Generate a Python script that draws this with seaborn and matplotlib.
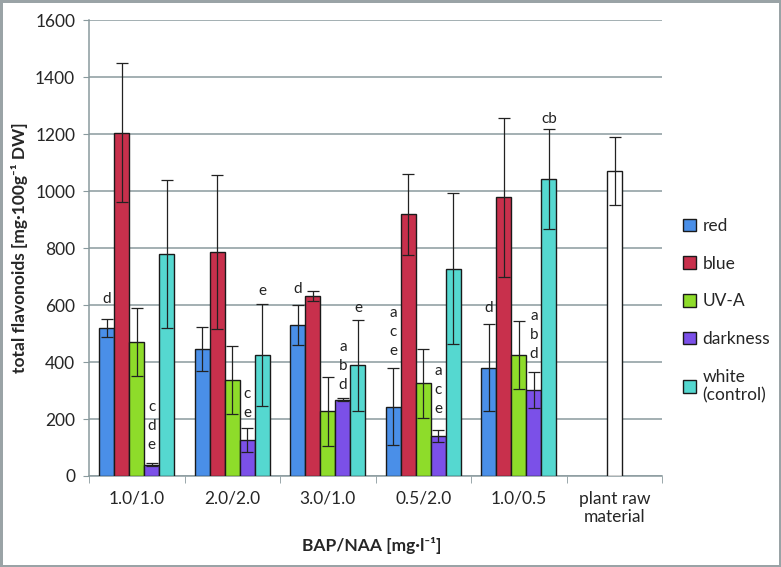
import seaborn as sns
import pandas as pd
import matplotlib.pyplot as plt

# data
groups = ["1.0/1.0", "2.0/2.0", "3.0/1.0", "0.5/2.0", "1.0/0.5"]
raw_label = "plant raw\nmaterial"
lights = ["red", "blue", "UV-A", "darkness", "white\n(control)"]
colors = ["#4A8FE8", "#C8304C", "#8EDC2A", "#7B50E8", "#55D8D0"]

red_mean = [520, 445, 530, 243, 380]
blue_mean = [1205, 787, 632, 918, 978]
uva_mean = [470, 338, 227, 325, 425]
dark_mean = [40, 125, 268, 140, 302]
white_mean = [780, 423, 388, 727, 1043]

red_err = [32, 78, 70, 135, 153]
blue_err = [245, 271, 18, 142, 278]
uva_err = [120, 120, 121, 120, 120]
dark_err = [5, 42, 5, 20, 63]
white_err = [260, 179, 161, 265, 175]

raw_mean = 1071
raw_err = 120

# significance letters: (group, light, text, y)
letters = [
    ("1.0/1.0", "red", "d", 620),
    ("1.0/1.0", "darkness", "c\nd\ne", 175),
    ("2.0/2.0", "darkness", "c\ne", 255),
    ("2.0/2.0", "white\n(control)", "e", 650),
    ("3.0/1.0", "red", "d", 655),
    ("3.0/1.0", "darkness", "a\nb\nd", 386),
    ("3.0/1.0", "white\n(control)", "e", 590),
    ("0.5/2.0", "red", "a\nc\ne", 505),
    ("0.5/2.0", "darkness", "a\nc\ne", 302),
    ("1.0/0.5", "red", "d", 590),
    ("1.0/0.5", "darkness", "a\nb\nd", 495),
    ("1.0/0.5", "white\n(control)", "cb", 1252),
]

means = [red_mean, blue_mean, uva_mean, dark_mean, white_mean]
errs = [red_err, blue_err, uva_err, dark_err, white_err]
rows = []
for light, m, e in zip(lights, means, errs):
    for g, v, s in zip(groups, m, e):
        rows.append({"group": g, "light": light, "value": v, "err": s})
df = pd.DataFrame(rows)
order = groups + [raw_label]

sns.set_style("white")
plt.rcParams["font.family"] = ["Lato", "DejaVu Sans"]

fig = plt.figure(figsize=(7.81, 5.67), dpi=100)
fig.patch.set_edgecolor("#9AA3A6")
fig.patch.set_linewidth(2.5)
ax = fig.add_axes([0.114, 0.1605, 0.734, 0.804])

sns.barplot(data=df, x="group", y="value", hue="light", order=order,
            hue_order=lights, palette=colors, saturation=1, width=0.785, gap=0,
            edgecolor="#1a1a1a", linewidth=1, errorbar=None, ax=ax, zorder=3)
sns.barplot(x=[raw_label], y=[raw_mean], order=order, color="white", saturation=1,
            width=0.157, edgecolor="#1a1a1a", linewidth=1, errorbar=None,
            ax=ax, zorder=3)
bar_conts = list(ax.containers)

# error bars and letters at the bar centres
centers = {}
for i, light in enumerate(lights):
    cont = bar_conts[i]
    sub = df[df.light == light].set_index("group").loc[groups]
    xs = [p.get_x() + p.get_width() / 2 for p in cont.patches[:len(groups)]]
    ax.errorbar(xs, sub["value"], yerr=sub["err"], fmt="none", ecolor="#222222",
                elinewidth=0.9, capsize=4, capthick=0.9, zorder=4)
    for g, x in zip(groups, xs):
        centers[(g, light)] = x
raw_patch = bar_conts[5].patches[0]
ax.errorbar([raw_patch.get_x() + raw_patch.get_width() / 2], [raw_mean], yerr=[raw_err],
            fmt="none", ecolor="#222222", elinewidth=0.9, capsize=4, capthick=0.9, zorder=4)

for g, light, txt, y in letters:
    ax.text(centers[(g, light)], y, txt, ha="center", va="center", fontsize=11,
            linespacing=1.45, color="#222222", zorder=5)

ax.set_ylim(0, 1600)
ax.set_xlim(-0.5, 5.5)
ax.set_yticks(range(0, 1601, 200))
ax.yaxis.grid(True, color="#8A9A9E", linewidth=1.1)
ax.set_axisbelow(True)
ax.tick_params(axis="y", labelsize=12.5, left=True, length=4, color="#8A9A9E", pad=6)
ax.tick_params(axis="x", labelsize=12.5, bottom=False, pad=7)
ax.set_xticks(range(6))
ax.set_xticklabels(order)
ax.set_xticks([i - 0.5 for i in range(7)], minor=True)
ax.tick_params(axis="x", which="minor", bottom=True, length=5, color="#8A9A9E")
for side in ["top", "right"]:
    ax.spines[side].set_visible(False)
for side in ["left", "bottom"]:
    ax.spines[side].set_color("#8A9A9E")
    ax.spines[side].set_linewidth(1.1)

ax.set_ylabel("total flavonoids [mg·100g⁻¹ DW]", fontsize=12.5, fontweight="bold", labelpad=5)
ax.set_xlabel("")
fig.text(0.476, 1 - 545 / 567, "BAP/NAA [mg·l⁻¹]", fontsize=12.5, fontweight="bold",
         ha="center", va="center")

handles, labels = ax.get_legend_handles_labels()
ax.legend_.remove()
fig.legend(handles, labels, loc="center left", bbox_to_anchor=(0.874, 0.452), frameon=False,
           fontsize=12.5, handlelength=0.75, handleheight=0.75, handletextpad=0.4,
           labelspacing=1.25, borderaxespad=0, borderpad=0)

fig.savefig("out.png", dpi=100)
